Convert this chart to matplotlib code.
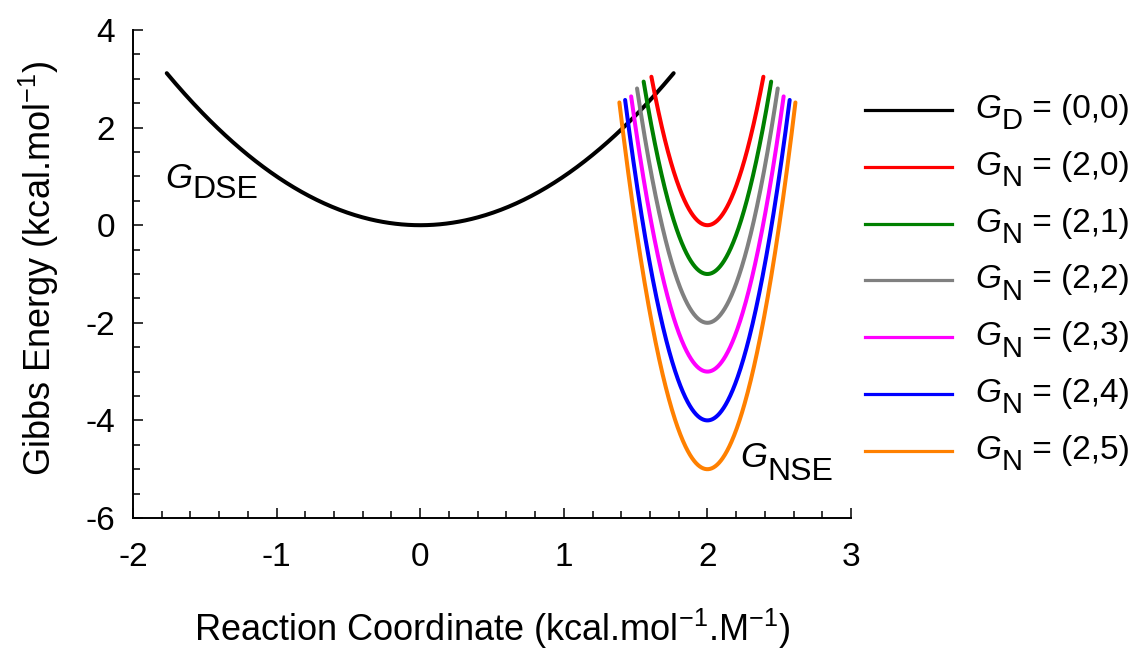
import numpy as np
import matplotlib
matplotlib.use("Agg")
import matplotlib.pyplot as plt
from matplotlib.lines import Line2D
from matplotlib.ticker import MultipleLocator

plt.rcParams['font.family'] = ['Liberation Sans', 'DejaVu Sans']
plt.rcParams['mathtext.fontset'] = 'custom'
plt.rcParams['mathtext.rm'] = 'Liberation Sans'
plt.rcParams['mathtext.it'] = 'Liberation Sans:italic'
plt.rcParams['axes.unicode_minus'] = False

# ---- data: parabolic free-energy curves G = G0 + k (x - x0)^2 ----
curve_subs = ['D', 'N', 'N', 'N', 'N', 'N', 'N']
curve_labels = ['(0,0)', '(2,0)', '(2,1)', '(2,2)', '(2,3)', '(2,4)', '(2,5)']
centers = [0.0, 2.0, 2.0, 2.0, 2.0, 2.0, 2.0]
minima = [0.0, 0.0, -1.0, -2.0, -3.0, -4.0, -5.0]
stiffness = [1.0, 20.0, 20.0, 20.0, 20.0, 20.0, 20.0]
half_widths = [1.765, 0.39, 0.444, 0.49, 0.531, 0.573, 0.613]
colors = ['#000000', '#ff0000', '#008000', '#808080', '#ff00ff', '#0000ff', '#ff8000']

xticks = [-2, -1, 0, 1, 2, 3]
yticks = [-6, -4, -2, 0, 2, 4]

W, H = 1143, 652
fig = plt.figure(figsize=(W / 100, H / 100), dpi=100)
ax = fig.add_axes([133 / W, 1 - 518 / H, (851 - 133) / W, (518 - 30) / H])

for x0, g0, k, hw, c in zip(centers, minima, stiffness, half_widths, colors):
    x = np.linspace(x0 - hw, x0 + hw, 400)
    ax.plot(x, g0 + k * (x - x0) ** 2, color=c, lw=2.9, solid_capstyle='round')

ax.set_xlim(-2, 3)
ax.set_ylim(-6, 4)
ax.set_xticks(xticks)
ax.set_yticks(yticks)
ax.set_xticklabels([str(v) for v in xticks])
ax.set_yticklabels([str(v) for v in yticks])
ax.xaxis.set_minor_locator(MultipleLocator(0.2))
ax.yaxis.set_minor_locator(MultipleLocator(0.5))
ax.spines['top'].set_visible(False)
ax.spines['right'].set_visible(False)
for s in ['left', 'bottom']:
    ax.spines[s].set_linewidth(1.4)
ax.tick_params(which='major', direction='in', length=7.2, width=1.1, labelsize=24)
ax.tick_params(axis='x', which='major', pad=17)
ax.tick_params(axis='y', which='major', pad=13)
ax.tick_params(which='minor', direction='in', length=5, width=1.1)

ax.set_xlabel(r'Reaction Coordinate (kcal.mol$^{\mathregular{-1}}$.M$^{\mathregular{-1}}$)', fontsize=26)
ax.set_ylabel(r'Gibbs Energy (kcal.mol$^{\mathregular{-1}}$)', fontsize=26)
ax.xaxis.set_label_coords(0.5, -(641 - 518) / 488)
ax.xaxis.label.set_verticalalignment('baseline')
ax.yaxis.set_label_coords((51 - 133) / 718, (518 - 268) / 488)
ax.yaxis.label.set_verticalalignment('baseline')


def gtext(x, y, sub, rest, size, subsize, drop, transform):
    t1 = ax.text(x, y, 'G', fontstyle='italic', fontsize=size, ha='left', va='baseline',
                 transform=transform)
    t2 = ax.annotate(sub, xy=(1, 0), xycoords=t1, xytext=(0.5, -drop),
                     textcoords='offset points', fontsize=subsize, ha='left', va='bottom')
    if rest:
        ax.annotate(rest, xy=(1, 0), xycoords=(t2, t1), xytext=(0, 0),
                    textcoords='offset points', fontsize=size, ha='left', va='bottom')


# curve annotations
gtext(-1.777, 0.762, 'DSE', '', 25, 23, 7.0, ax.transData)
gtext(2.227, -4.955, 'NSE', '', 25, 23, 9.0, ax.transData)

# manual legend
row0, dy = 110, 56.8
for i, (sub, lab, c) in enumerate(zip(curve_subs, curve_labels, colors)):
    yl = row0 + i * dy
    fig.add_artist(Line2D([865 / W, 952 / W], [1 - yl / H, 1 - yl / H], color=c, lw=2.3,
                          transform=fig.transFigure))
    gtext(975 / W, 1 - (yl + 8) / H, sub, ' = ' + lab, 24, 21, 7.5, fig.transFigure)

fig.savefig('out.png', dpi=100)
